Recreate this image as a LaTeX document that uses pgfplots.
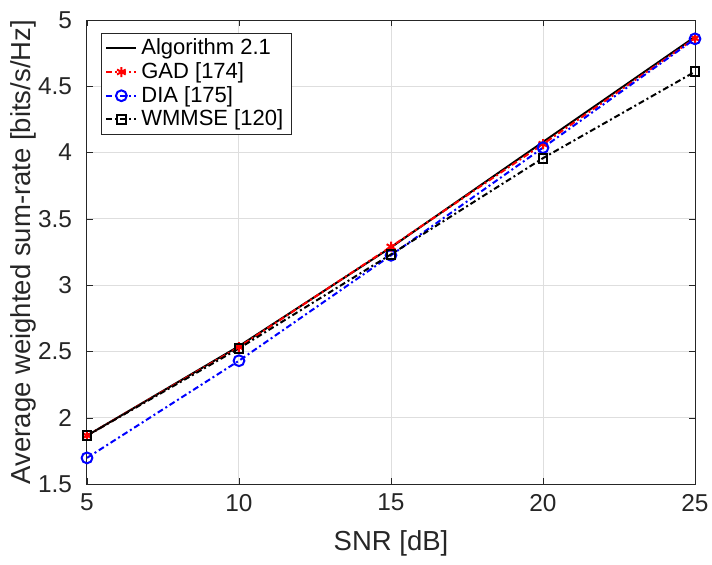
\documentclass[border=0pt]{standalone}
\usepackage{fontspec}
\setmainfont{Liberation Sans}
\usepackage{pgfplots}
\pgfplotsset{compat=1.18}
\definecolor{axgray}{RGB}{38,38,38}
\begin{document}
\begin{tikzpicture}
\useasboundingbox (-43.5pt,-40pt) rectangle (312.5pt,242pt);
\begin{axis}[
  scale only axis,
  width=304pt, height=232pt,
  xmin=5, xmax=25, ymin=1.5, ymax=5,
  xtick={5,10,15,20,25},
  ytick={1.5,2,2.5,3,3.5,4,4.5,5},
  /pgf/number format/assume math mode=true,
  yticklabel style={/pgf/number format/fixed, xshift=-4pt},
  xticklabel style={yshift=-1.5pt},
  tick label style={font=\fontsize{12.2}{14}\selectfont, text=axgray},
  label style={font=\fontsize{13.75}{16}\selectfont, text=axgray},
  xlabel={SNR [dB]},
  ylabel={Average weighted sum-rate [bits/s/Hz]},
  xlabel style={at={(axis description cs:0.5,-0.129)}, anchor=center},
  ylabel style={at={(axis description cs:-0.105,0.5)}, anchor=center},
  grid=major,
  major grid style={black!13, line width=0.5pt},
  tick align=inside,
  axis line style={axgray, line width=0.5pt},
  major tick length=3pt,
  tick style={axgray},
  legend style={at={(0.023,0.972)}, anchor=north west, font=\fontsize{11}{13}\selectfont, draw=axgray, line width=0.4pt, inner xsep=2pt, inner ysep=1.5pt, row sep=0pt, nodes={inner xsep=2pt, inner ysep=1.2pt}},
  legend cell align=left,
  legend image code/.code={\draw[#1] (0pt,0pt) -- (15pt,0pt); \draw[#1, solid] plot coordinates {(7.5pt,0pt)};},
]
\addplot[black, line width=1pt] coordinates {(5,1.865) (10,2.54) (15,3.285) (20,4.08) (25,4.873)};
\addlegendentry{Algorithm 2.1}
\addplot[red, line width=1pt, dash pattern=on 3pt off 1.5pt on 1pt off 1.5pt, mark=asterisk, mark size=2.5pt, mark options={solid}] coordinates {(5,1.865) (10,2.533) (15,3.29) (20,4.064) (25,4.862)};
\addlegendentry{GAD [174]}
\addplot[blue, line width=1pt, dash pattern=on 3pt off 1.5pt on 1pt off 1.5pt, mark=o, mark size=2.7pt, mark options={solid}] coordinates {(5,1.697) (10,2.43) (15,3.225) (20,4.037) (25,4.858)};
\addlegendentry{DIA [175]}
\addplot[black, line width=1pt, dash pattern=on 3pt off 1.5pt on 1pt off 1.5pt, mark=square, mark size=2.2pt, mark options={solid}] coordinates {(5,1.865) (10,2.523) (15,3.232) (20,3.958) (25,4.61)};
\addlegendentry{WMMSE [120]}
\end{axis}
\end{tikzpicture}
\end{document}
